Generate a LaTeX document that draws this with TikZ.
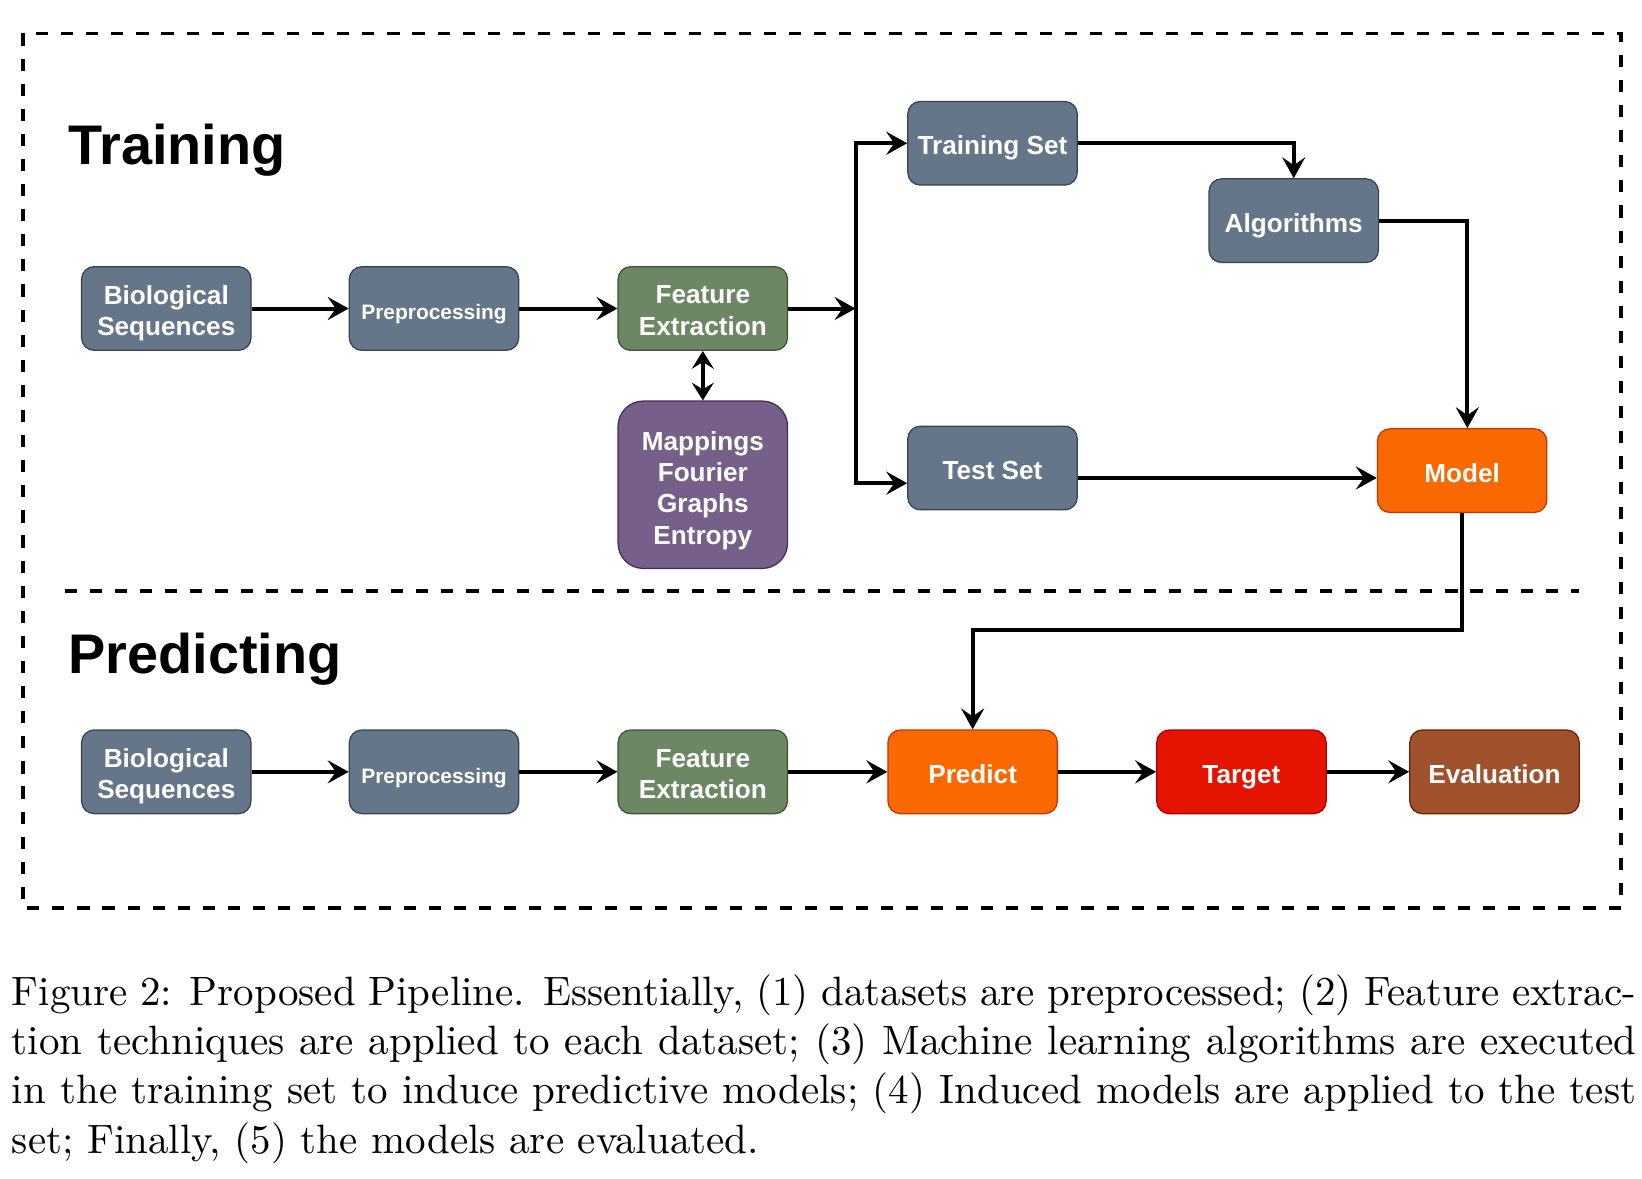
\documentclass[tikz,border=0pt]{standalone}
\usepackage{fontspec}
\usepackage{graphicx}
\usetikzlibrary{arrows.meta}
\newfontfamily\boxfont{Liberation Sans}
\definecolor{grayF}{HTML}{647687}\definecolor{grayS}{HTML}{314354}
\definecolor{greenF}{HTML}{6D8764}\definecolor{greenS}{HTML}{3A5431}
\definecolor{purpF}{HTML}{76608A}\definecolor{purpS}{HTML}{432D57}
\definecolor{orF}{HTML}{FA6800}\definecolor{orS}{HTML}{C73500}
\definecolor{redF}{HTML}{E51400}\definecolor{redS}{HTML}{B20000}
\definecolor{brF}{HTML}{A0522D}\definecolor{brS}{HTML}{6D1F00}
\newcommand\boxstrut{\rule[-3.2pt]{0pt}{17.3pt}}
\begin{document}
\begin{tikzpicture}[x=0.5pt,y=-0.5pt,
  boxtext/.style={text=white, align=center, font=\boxfont\bfseries\fontsize{12.5}{15}\selectfont,
    execute at begin node=\boxstrut, execute at end node=\boxstrut},
  multitext/.style={boxtext, inner sep=0pt},
  box/.style={boxtext, rectangle, rounded corners=6pt, minimum width=81pt, minimum height=40pt,
    inner sep=0pt, line width=0.6pt},
  gbox/.style={box, fill=grayF, draw=grayS},
  febox/.style={box, fill=greenF, draw=greenS},
  obox/.style={box, fill=orF, draw=orS},
  rbox/.style={box, fill=redF, draw=redS},
  bbox/.style={box, fill=brF, draw=brS},
  small/.style={font=\boxfont\bfseries\fontsize{10}{12}\selectfont},
  arr/.style={-{Stealth[length=10pt,width=11pt,inset=3.8pt]}, line width=1.9pt},
  arrtwo/.style={{Stealth[length=8.5pt,width=10.5pt,inset=3.2pt]}-{Stealth[length=8.5pt,width=10.5pt,inset=3.2pt]}, line width=1.9pt},
  dashline/.style={line width=1.8pt, dash pattern=on 5.8pt off 6.2pt},
  title/.style={anchor=base west, inner sep=0pt, font=\boxfont\bfseries\fontsize{26.7}{30}\selectfont}
]
\useasboundingbox (0,0) rectangle (1570,1127.3);

% frames
\draw[dashline] (22,32) rectangle (1550,868);
\draw[dashline] (62,565) -- (1510,565);

% titles
\node[title] (ttrain) at (65,157.7) {Training};
\node[title] (tpred) at (65,643.7) {Predicting};

% training row
\node[gbox] (bio1) at (159,295) {};
\node[multitext] (bio1t) at ([yshift=-2.5pt]bio1.center) {Biological\\Sequences};
\node[gbox, small] (pre1) at (415,295) {Preprocessing};
\node[febox] (fe1) at (672,295) {};
\node[multitext] (fe1t) at ([yshift=-2.5pt]fe1.center) {Feature\\Extraction};
\node[box, fill=purpF, draw=purpS, minimum height=80pt, rounded corners=12pt] (map) at (672,463.5) {};
\node[multitext] (maptxt) at ([yshift=-3pt]map.center) {Mappings\\Fourier\\Graphs\\Entropy};
\node[gbox] (ts) at (949,137) {Training Set};
\node[gbox] (alg) at (1237,211) {Algorithms};
\node[gbox] (test) at (949,447.5) {Test Set};
\node[obox] (model) at (1398,450) {Model};

% predicting row
\node[gbox] (bio2) at (159,738) {};
\node[multitext] (bio2t) at ([yshift=-2.5pt]bio2.center) {Biological\\Sequences};
\node[gbox, small] (pre2) at (415,738) {Preprocessing};
\node[febox] (fe2) at (672,738) {};
\node[multitext] (fe2t) at ([yshift=-2.5pt]fe2.center) {Feature\\Extraction};
\node[obox] (pred) at (930,738) {Predict};
\node[rbox] (tgt) at (1187,738) {Target};
\node[bbox] (eval) at (1429,738) {Evaluation};

% helper coordinates
\coordinate (j) at (818,295);
\coordinate (tl) at (0,462);
\coordinate (ty) at (0,457);
\coordinate (mx) at (1403,0);
\coordinate (mp) at (0,602);

% training connectors
\draw[arr] (bio1) -- (pre1);
\draw[arr] (pre1) -- (fe1);
\draw[arr] (fe1.east) -- (j);
\draw[arr] (j) |- (ts.west);
\draw[arr] (j) |- (test.west |- tl);
\draw[arrtwo] (fe1.south) -- (map.north);
\draw[arr] (ts.east) -| (alg.north);
\draw[arr] (alg.east) -| (model.north -| mx);
\draw[arr] (test.east |- ty) -- (model.west |- ty);
\draw[arr] (model.south) -- (model.south |- mp) -| (pred.north);

% predicting connectors
\draw[arr] (bio2) -- (pre2);
\draw[arr] (pre2) -- (fe2);
\draw[arr] (fe2) -- (pred);
\draw[arr] (pred) -- (tgt);
\draw[arr] (tgt) -- (eval);

% caption
\node[anchor=base west, inner sep=0pt] (cap) at (11,961.5) {\scalebox{1.96}{\parbox[t]{396.2pt}{\fontsize{10}{12}\selectfont
Figure 2: Proposed Pipeline. Essentially, (1) datasets are preprocessed; (2) Feature extrac-\linebreak
tion techniques are applied to each dataset; (3) Machine learning algorithms are executed\linebreak
in the training set to induce predictive models; (4) Induced models are applied to the test\linebreak
set; Finally, (5) the models are evaluated.}}};
\end{tikzpicture}
\end{document}
